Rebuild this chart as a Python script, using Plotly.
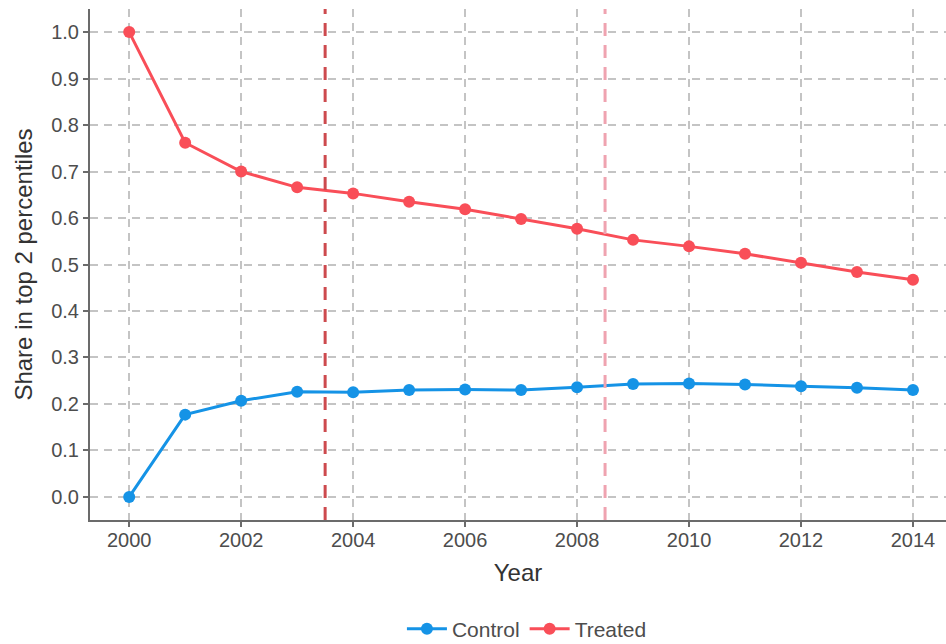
import plotly.graph_objects as go

years = list(range(2000, 2015))
control = [0.000, 0.177, 0.207, 0.226, 0.225, 0.230, 0.231, 0.230,
           0.236, 0.243, 0.244, 0.242, 0.238, 0.235, 0.230]
treated = [1.000, 0.762, 0.700, 0.666, 0.653, 0.635, 0.619, 0.598,
           0.577, 0.553, 0.539, 0.523, 0.504, 0.484, 0.467]
event_years = [2003.5, 2008.5]
event_colors = ["#CD4A4E", "#EFA3B0"]

x_ticks = list(range(2000, 2015, 2))
y_ticks = [round(0.1 * i, 1) for i in range(11)]

CONTROL_COLOR = "#1593E6"
TREATED_COLOR = "#F94E58"
FONT = "Liberation Sans, Arial, sans-serif"

fig = go.Figure()
fig.add_trace(go.Scatter(
    x=years, y=control, name="Control", mode="lines+markers",
    line=dict(color=CONTROL_COLOR, width=3),
    marker=dict(color=CONTROL_COLOR, size=12),
))
fig.add_trace(go.Scatter(
    x=years, y=treated, name="Treated", mode="lines+markers",
    line=dict(color=TREATED_COLOR, width=3),
    marker=dict(color=TREATED_COLOR, size=12),
))

for xv, col in zip(event_years, event_colors):
    fig.add_shape(type="line", xref="x", yref="paper", x0=xv, x1=xv, y0=0, y1=1,
                  line=dict(color=col, width=3, dash="13px,9px"), layer="above")

axis_common = dict(
    showline=True, linecolor="#6b6b6b", linewidth=2,
    ticks="outside", tickcolor="#6b6b6b", ticklen=5, tickwidth=1.5,
    showgrid=True, gridcolor="#C4C4C4", gridwidth=1.5, griddash="8px,6px",
    zeroline=False, tickfont=dict(size=20, color="#4D4D4D", family=FONT),
    title_font=dict(size=24, color="#333333", family=FONT),
    automargin=False,
)

fig.update_xaxes(
    range=[1999.3, 2014.59], tickvals=x_ticks, ticktext=[str(t) for t in x_ticks],
    title_text="Year", title_standoff=14, ticklabelstandoff=-4, **axis_common,
)
fig.update_yaxes(
    range=[-0.0497, 1.0497], tickvals=y_ticks, ticktext=[f"{t:.1f}" for t in y_ticks],
    title_text="Share in top 2 percentiles", title_standoff=12, **axis_common,
)

fig.update_layout(
    width=946, height=644,
    margin=dict(l=90, r=0, t=9, b=124, autoexpand=False),
    plot_bgcolor="white", paper_bgcolor="white",
    font=dict(family=FONT),
    showlegend=True,
    legend=dict(
        orientation="h", xref="container", yref="container",
        x=0.557, xanchor="center", y=0.023, yanchor="middle",
        font=dict(size=21, color="#4D4D4D", family=FONT),
        itemwidth=40,
    ),
)

fig.write_html("out.html")
